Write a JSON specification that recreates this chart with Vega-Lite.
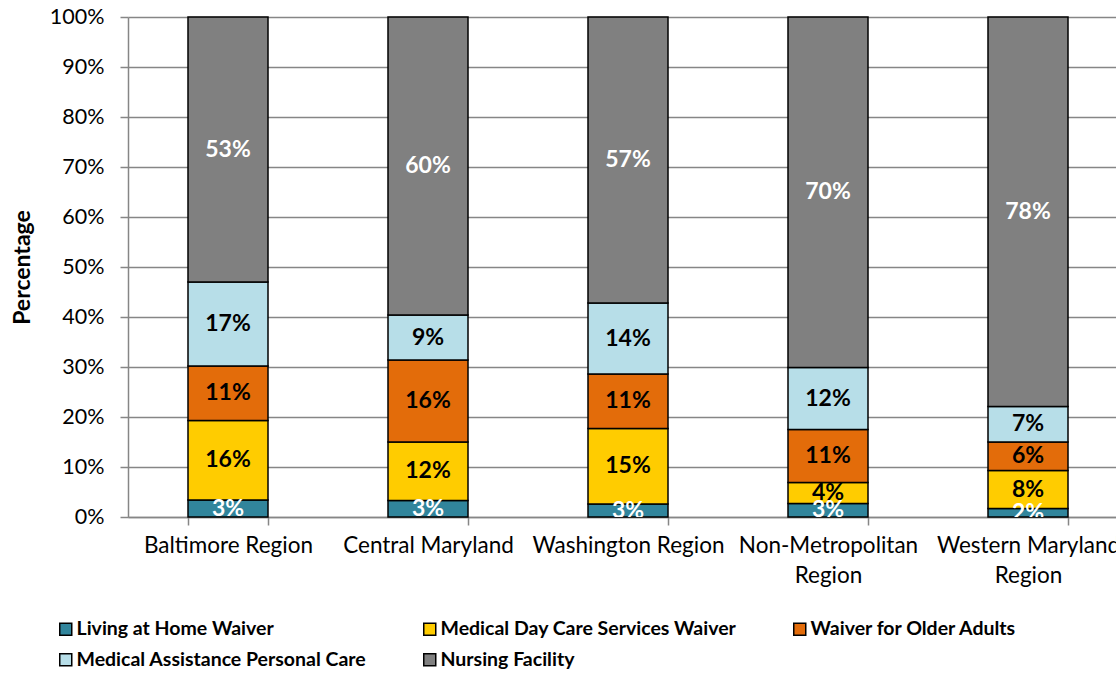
{
  "$schema": "https://vega.github.io/schema/vega-lite/v6.json",
  "autosize": "none",
  "width": 988,
  "height": 500,
  "padding": {"left": 128, "top": 17, "right": 0, "bottom": 156},
  "background": "white",
  "config": {
    "view": {"stroke": null},
    "font": "Lato",
    "axis": {"labelFont": "Lato", "titleFont": "Lato", "labelColor": "black", "titleColor": "black"}
  },
  "data": {
    "values": [
      {"region": "Baltimore Region", "series": "Living at Home Waiver", "k": 1, "value": 0.034},
      {"region": "Baltimore Region", "series": "Medical Day Care Services Waiver", "k": 2, "value": 0.159},
      {"region": "Baltimore Region", "series": "Waiver for Older Adults", "k": 3, "value": 0.109},
      {"region": "Baltimore Region", "series": "Medical Assistance Personal Care", "k": 4, "value": 0.168},
      {"region": "Baltimore Region", "series": "Nursing Facility", "k": 5, "value": 0.530},
      {"region": "Central Maryland", "series": "Living at Home Waiver", "k": 1, "value": 0.033},
      {"region": "Central Maryland", "series": "Medical Day Care Services Waiver", "k": 2, "value": 0.117},
      {"region": "Central Maryland", "series": "Waiver for Older Adults", "k": 3, "value": 0.164},
      {"region": "Central Maryland", "series": "Medical Assistance Personal Care", "k": 4, "value": 0.090},
      {"region": "Central Maryland", "series": "Nursing Facility", "k": 5, "value": 0.596},
      {"region": "Washington Region", "series": "Living at Home Waiver", "k": 1, "value": 0.026},
      {"region": "Washington Region", "series": "Medical Day Care Services Waiver", "k": 2, "value": 0.151},
      {"region": "Washington Region", "series": "Waiver for Older Adults", "k": 3, "value": 0.109},
      {"region": "Washington Region", "series": "Medical Assistance Personal Care", "k": 4, "value": 0.142},
      {"region": "Washington Region", "series": "Nursing Facility", "k": 5, "value": 0.572},
      {"region": "Non-Metropolitan Region", "series": "Living at Home Waiver", "k": 1, "value": 0.027},
      {"region": "Non-Metropolitan Region", "series": "Medical Day Care Services Waiver", "k": 2, "value": 0.042},
      {"region": "Non-Metropolitan Region", "series": "Waiver for Older Adults", "k": 3, "value": 0.106},
      {"region": "Non-Metropolitan Region", "series": "Medical Assistance Personal Care", "k": 4, "value": 0.124},
      {"region": "Non-Metropolitan Region", "series": "Nursing Facility", "k": 5, "value": 0.701},
      {"region": "Western Maryland Region", "series": "Living at Home Waiver", "k": 1, "value": 0.017},
      {"region": "Western Maryland Region", "series": "Medical Day Care Services Waiver", "k": 2, "value": 0.076},
      {"region": "Western Maryland Region", "series": "Waiver for Older Adults", "k": 3, "value": 0.057},
      {"region": "Western Maryland Region", "series": "Medical Assistance Personal Care", "k": 4, "value": 0.071},
      {"region": "Western Maryland Region", "series": "Nursing Facility", "k": 5, "value": 0.779}
    ]
  },
  "encoding": {
    "x": {
      "field": "region", "type": "nominal",
      "sort": ["Baltimore Region", "Central Maryland", "Washington Region", "Non-Metropolitan Region", "Western Maryland Region"],
      "scale": {"range": [0, 1000], "paddingInner": 0.6, "paddingOuter": 0.3},
      "axis": {
        "title": null, "labelAngle": 0, "labelFontSize": 22.5, "labelPadding": 9,
        "labelLineHeight": 30, "labelBaseline": "top",
        "labelExpr": "datum.value == 'Non-Metropolitan Region' ? ['Non-Metropolitan', 'Region'] : datum.value == 'Western Maryland Region' ? ['Western Maryland', 'Region'] : datum.value",
        "tickBand": "extent", "tickSize": 8, "tickColor": "#868686", "tickWidth": 1.5,
        "domainColor": "#868686", "domainWidth": 1.5, "grid": false, "labelLimit": 400
      }
    },
    "y": {
      "field": "value", "type": "quantitative", "stack": "zero",
      "scale": {"domain": [0, 1]},
      "axis": {
        "title": "Percentage", "titleFontSize": 23, "titleFontWeight": "bold", "titlePadding": 15,
        "format": ".0%", "values": [0, 0.1, 0.2, 0.3, 0.4, 0.5, 0.6, 0.7, 0.8, 0.9, 1],
        "labelFontSize": 21.5, "labelPadding": 16, "tickSize": 8, "tickColor": "#868686", "tickWidth": 1.5,
        "domainColor": "#868686", "domainWidth": 1.5,
        "grid": true, "gridColor": "#868686", "gridWidth": 1.5
      }
    },
    "order": {"field": "k", "type": "quantitative", "sort": "ascending"}
  },
  "layer": [
    {
      "mark": {"type": "bar", "stroke": "black", "strokeWidth": 1.5},
      "encoding": {
        "color": {
          "field": "series", "type": "nominal",
          "sort": ["Living at Home Waiver", "Medical Day Care Services Waiver", "Waiver for Older Adults", "Medical Assistance Personal Care", "Nursing Facility"],
          "scale": {
            "domain": ["Living at Home Waiver", "Medical Day Care Services Waiver", "Waiver for Older Adults", "Medical Assistance Personal Care", "Nursing Facility"],
            "range": ["#31859C", "#FFCC00", "#E36C0A", "#B7DEE8", "#808080"]
          },
          "legend": {
            "orient": "none", "legendX": -72, "legendY": 602, "direction": "horizontal", "columns": 3,
            "title": null, "padding": 0, "symbolType": "square", "symbolSize": 144,
            "symbolStrokeColor": "black", "symbolStrokeWidth": 1.5, "symbolOpacity": 1,
            "labelFont": "Lato", "labelFontSize": 19.5, "labelFontWeight": "bold", "labelColor": "black",
            "labelOffset": 1, "columnPadding": 53, "rowPadding": 10, "labelLimit": 400
          }
        }
      }
    },
    {
      "mark": {"type": "text", "fontSize": 23, "fontWeight": "bold", "font": "Lato", "clip": true, "baseline": "middle"},
      "encoding": {
        "y": {"field": "value", "type": "quantitative", "stack": "zero", "bandPosition": 0.5},
        "detail": {"field": "series"},
        "text": {"field": "value", "type": "quantitative", "format": ".0%"},
        "color": {
          "condition": {"test": "datum.series == 'Living at Home Waiver' || datum.series == 'Nursing Facility'", "value": "white"},
          "value": "black"
        }
      }
    },
    {
      "mark": {"type": "rule", "color": "black", "strokeWidth": 1.5},
      "encoding": {"y": {"datum": 1}}
    }
  ]
}
